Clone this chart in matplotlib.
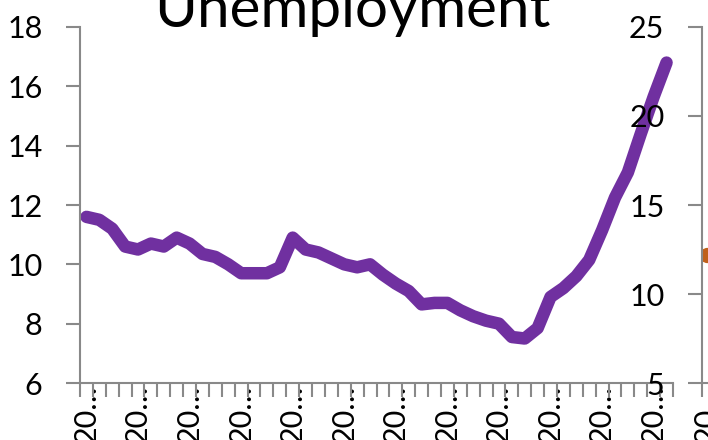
import matplotlib.pyplot as plt
import numpy as np

plt.rcParams['font.family'] = ['Lato', 'DejaVu Sans']

# quarterly unemployment rate (%)
unemployment = [11.6, 11.5, 11.2, 10.6, 10.5, 10.7, 10.6, 10.9, 10.7, 10.35,
                10.25, 10.0, 9.7, 9.7, 9.7, 9.9, 10.9, 10.5, 10.4, 10.2,
                10.0, 9.9, 10.0, 9.65, 9.35, 9.1, 8.65, 8.7, 8.7, 8.45,
                8.25, 8.1, 8.0, 7.55, 7.5, 7.85, 8.9, 9.2, 9.6, 10.15,
                11.15, 12.25, 13.1, 14.4, 15.65, 16.8]
year_labels = ['20…'] * 12
left_ticks = [6, 8, 10, 12, 14, 16, 18]

# neighbouring panel, only its edge shows
next_values = [12.2]
next_labels = ['20…']
next_ticks = [5, 10, 15, 20, 25]

W, H = 708, 440
grey = '#898989'
fs = 22

fig = plt.figure(figsize=(W / 100, H / 100), dpi=100)

def px_box(x0, y0, x1, y1):
    return [x0 / W, 1 - y1 / H, (x1 - x0) / W, (y1 - y0) / H]

def style_axes(ax):
    for s in ['top', 'right']:
        ax.spines[s].set_visible(False)
    for s in ['left', 'bottom']:
        ax.spines[s].set_color(grey)
        ax.spines[s].set_linewidth(1.5)
    ax.tick_params(axis='y', which='major', length=10, width=1.5, color=grey,
                   pad=17, labelsize=fs)
    ax.tick_params(axis='x', which='major', length=0, pad=1, labelsize=fs,
                   labelrotation=90)
    ax.tick_params(axis='x', which='minor', length=10, width=1.5, color=grey)

ax = fig.add_axes(px_box(80, 27, 673, 383))
n = len(unemployment)
x = np.arange(n)
ax.plot(x, unemployment, color='#7030A0', lw=9, solid_capstyle='round',
        solid_joinstyle='round')
ax.set_xlim(-0.5, n - 0.5)
ax.set_ylim(6, 18)
ax.set_yticks(left_ticks)
ax.set_xticks(x[::4])
ax.set_xticklabels(year_labels, va='top', ha='center')
ax.set_xticks(np.arange(-0.5, n, 1), minor=True)
style_axes(ax)

ax2 = fig.add_axes(px_box(702, 27, 742, 383))
ax2.patch.set_alpha(0)
ax2.plot([0], next_values, 'o', color='#C0601A', ms=10)
ax2.set_xlim(-0.5, 3.5)
ax2.set_ylim(5, 25)
ax2.set_yticks(next_ticks)
ax2.set_xticks([0])
ax2.set_xticklabels(next_labels, va='top', ha='center')
ax2.set_xticks(np.arange(-0.5, 4, 1), minor=True)
style_axes(ax2)

fig.text(352 / W, 1 - 27 / H, 'Unemployment', ha='center', va='baseline',
         fontsize=42)

fig.savefig('out.png', dpi=100)
